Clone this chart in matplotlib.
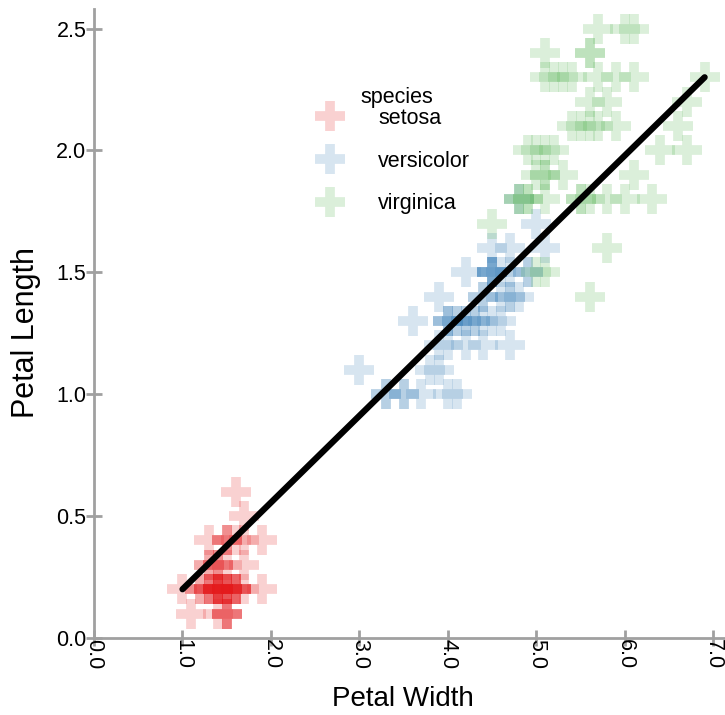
import matplotlib
matplotlib.use("Agg")
import matplotlib.pyplot as plt
from matplotlib.lines import Line2D

plt.rcParams['font.family'] = ['Liberation Sans', 'DejaVu Sans']

species = ["setosa", "versicolor", "virginica"]
colors = {"setosa": "#e41a1c", "versicolor": "#377eb8", "virginica": "#4daf4a"}

setosa_pl = [1.4,1.4,1.3,1.5,1.4,1.7,1.4,1.5,1.4,1.5,1.5,1.6,1.4,1.1,1.2,1.5,1.3,1.4,1.7,1.5,1.7,1.5,1.0,1.7,1.9,1.6,1.6,1.5,1.4,1.6,1.6,1.5,1.5,1.4,1.5,1.2,1.3,1.5,1.3,1.5,1.3,1.3,1.3,1.6,1.9,1.4,1.6,1.4,1.5,1.4]
setosa_pw = [0.2,0.2,0.2,0.2,0.2,0.4,0.3,0.2,0.2,0.1,0.2,0.2,0.1,0.1,0.2,0.4,0.4,0.3,0.3,0.3,0.2,0.4,0.2,0.5,0.2,0.2,0.4,0.2,0.2,0.2,0.2,0.4,0.1,0.2,0.1,0.2,0.2,0.1,0.2,0.2,0.3,0.3,0.2,0.6,0.4,0.3,0.2,0.2,0.2,0.2]
versicolor_pl = [4.7,4.5,4.9,4.0,4.6,4.5,4.7,3.3,4.6,3.9,3.5,4.2,4.0,4.7,3.6,4.4,4.5,4.1,4.5,3.9,4.8,4.0,4.9,4.7,4.3,4.4,4.8,5.0,4.5,3.5,3.8,3.7,3.9,5.1,4.5,4.5,4.7,4.4,4.1,4.0,4.4,4.6,4.0,3.3,4.2,4.2,4.2,4.3,3.0,4.1]
versicolor_pw = [1.4,1.5,1.5,1.3,1.5,1.3,1.6,1.0,1.3,1.4,1.0,1.5,1.0,1.4,1.3,1.4,1.5,1.0,1.5,1.1,1.8,1.3,1.5,1.2,1.3,1.4,1.4,1.7,1.5,1.0,1.1,1.0,1.2,1.6,1.5,1.6,1.5,1.3,1.3,1.3,1.2,1.4,1.2,1.0,1.3,1.2,1.3,1.3,1.1,1.3]
virginica_pl = [6.0,5.1,5.9,5.6,5.8,6.6,4.5,6.3,5.8,6.1,5.1,5.3,5.5,5.0,5.1,5.3,5.5,6.7,6.9,5.0,5.7,4.9,6.7,4.9,5.7,6.0,4.8,4.9,5.6,5.8,6.1,6.4,5.6,5.1,5.6,6.1,5.6,5.5,4.8,5.4,5.6,5.1,5.1,5.9,5.7,5.2,5.0,5.2,5.4,5.1]
virginica_pw = [2.5,1.9,2.1,1.8,2.2,2.1,1.7,1.8,1.8,2.5,2.0,1.9,2.1,2.0,2.4,2.3,1.8,2.2,2.3,1.5,2.3,2.0,2.0,1.8,2.1,1.8,1.8,1.8,2.1,1.6,1.9,2.0,2.2,1.5,1.4,2.3,2.4,1.8,1.8,2.1,2.4,2.3,1.9,2.3,2.5,2.3,1.9,2.0,2.3,1.8]

data = {
    "setosa": (setosa_pl, setosa_pw),
    "versicolor": (versicolor_pl, versicolor_pw),
    "virginica": (virginica_pl, virginica_pw),
}

line_x = [1.0, 6.9]
line_y = [0.2, 2.3]

xticks = [0, 1, 2, 3, 4, 5, 6, 7]
yticks = [0.0, 0.5, 1.0, 1.5, 2.0, 2.5]

W, H = 725, 715
fig = plt.figure(figsize=(W / 100, H / 100), dpi=100)
ax = fig.add_axes([94 / W, 1 - 638 / H, 1 - 94 / W, (638 - 9) / H])

msize = 22
mew = 7
for sp in species:
    xs, ys = data[sp]
    ax.plot(xs, ys, linestyle="none", marker="+", markersize=msize,
            markeredgewidth=mew, color=colors[sp], alpha=0.2)

ax.plot(line_x, line_y, color="black", linewidth=4.5, solid_capstyle="round")

ax.set_xlim(0, 7.13)
ax.set_ylim(0, 2.58)
ax.set_xticks(xticks)
ax.set_xticklabels([f"{v:.1f}" for v in xticks], rotation=-90)
ax.set_yticks(yticks)
ax.set_yticklabels([f"{v:.1f}" for v in yticks])

for s in ["top", "right"]:
    ax.spines[s].set_visible(False)
for s in ["left", "bottom"]:
    ax.spines[s].set_color("#a0a0a0")
    ax.spines[s].set_linewidth(2)
ax.tick_params(axis="both", direction="inout", length=11, width=2, color="#a0a0a0",
               labelsize=15.5)
ax.tick_params(axis="x", pad=-5)
ax.tick_params(axis="y", pad=0)

ax.set_xlabel("Petal Width", fontsize=20)
ax.set_ylabel("Petal Length", fontsize=22)
ax.xaxis.set_label_coords(0.49, (638 - 686) / 629)
ax.yaxis.set_label_coords((41 - 94) / 631, 0.485)

handles = [Line2D([], [], linestyle="none", marker="+", markersize=msize,
                  markeredgewidth=mew, color=colors[sp], alpha=0.2) for sp in species]
leg = fig.legend(handles, species, frameon=False, fontsize=15.5,
                 loc="upper left", bbox_to_anchor=(314 / W, 1 - 108 / H),
                 bbox_transform=fig.transFigure, borderaxespad=0, borderpad=0,
                 labelspacing=1.01, handletextpad=1.49, handlelength=1.5)
fig.text(360 / W, 1 - 97 / H, "species", fontsize=15.5, ha="left", va="center")

fig.savefig("out.png", dpi=100)
